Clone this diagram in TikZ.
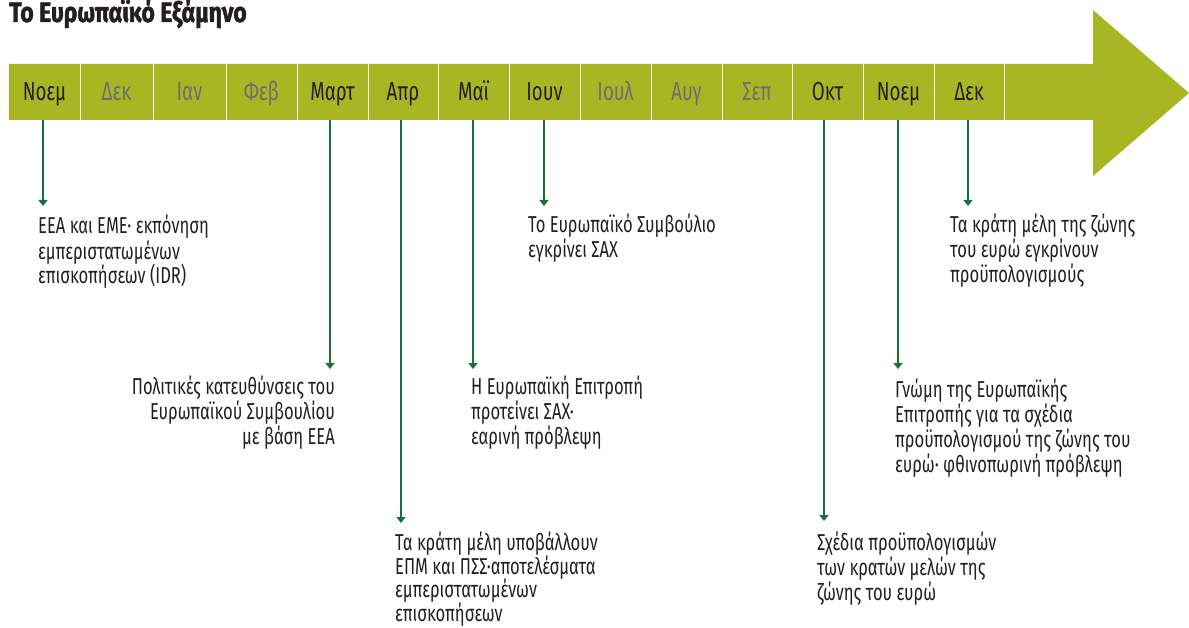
\documentclass[tikz,border=0pt]{standalone}
\usepackage{fontspec}
\setmainfont{Fira Sans}[FakeStretch=0.72]
\newfontfamily\titlefont{Fira Sans}[FakeStretch=0.82, BoldFeatures={FakeBold=1.6}]
\usetikzlibrary{arrows.meta}
\definecolor{band}{HTML}{A9B623}
\definecolor{conn}{HTML}{1A6E3A}
\definecolor{dark}{HTML}{231F20}
\definecolor{idlegrey}{HTML}{6D6E71}
\begin{document}
\begin{tikzpicture}[x=1pt,y=-1pt,
  month/.style={inner sep=0, minimum height=56pt, text height=18pt, text depth=0pt,
    font=\fontsize{26}{28}\selectfont},
  act/.style={month, text=dark},
  idle/.style={month, text=idlegrey},
  event/.style={inner sep=0, align=left, anchor=base west, text=dark,
    font=\fontsize{23}{25}\selectfont},
  link/.style={draw=conn, line width=1.2pt, -{Triangle[width=9pt,length=6pt]}},
  sepline/.style={draw=white!88!band, line width=1.2pt}]
\useasboundingbox (0,0) rectangle (1189,628);
% band with arrow head
\fill[band] (9,64) -- (1093,64) -- (1093,10) -- (1189,93) -- (1093,176) -- (1093,120) -- (9,120) -- cycle;
% title
\node[anchor=base west, inner sep=0, text=dark, font=\titlefont\bfseries\fontsize{28}{30}\selectfont] (title) at (9,22) {Το Ευρωπαϊκό Εξάμηνο};
% months
\node[act,  minimum width=71pt] (m1)  at (44.5,92) {Νοεμ};
\node[idle, minimum width=73pt] (m2)  at (116.5,92) {Δεκ};
\node[idle, minimum width=73pt] (m3)  at (189.5,92) {Ιαν};
\node[idle, minimum width=71pt] (m4)  at (261.5,92) {Φεβ};
\node[act,  minimum width=71pt] (m5)  at (332.5,92) {Μαρτ};
\node[act,  minimum width=70pt] (m6)  at (403,92) {Απρ};
\node[act,  minimum width=71pt] (m7)  at (473.5,92) {Μαϊ};
\node[act,  minimum width=71pt] (m8)  at (544.5,92) {Ιουν};
\node[idle, minimum width=71pt] (m9)  at (615.5,92) {Ιουλ};
\node[idle, minimum width=71pt] (m10) at (686.5,92) {Αυγ};
\node[idle, minimum width=70pt] (m11) at (757,92) {Σεπ};
\node[act,  minimum width=71pt] (m12) at (827.5,92) {Οκτ};
\node[act,  minimum width=71pt] (m13) at (898.5,92) {Νοεμ};
\node[act,  minimum width=70pt] (m14) at (969,92) {Δεκ};
\foreach \i in {1,...,14} \draw[sepline] (m\i.north east) -- (m\i.south east);
% events (base anchor = baseline of last line)
\node[event] (e1) at (38,284) {ΕΕΑ και ΕΜΕ· εκπόνηση\\εμπεριστατωμένων\\επισκοπήσεων (IDR)};
\node[event] (e2) at (528,258) {Το Ευρωπαϊκό Συμβούλιο\\εγκρίνει ΣΑΧ};
\node[event] (e3) at (950,283) {Τα κράτη μέλη της ζώνης\\του ευρώ εγκρίνουν\\προϋπολογισμούς};
\node[event, anchor=base east, align=right] (e4) at (335,444) {Πολιτικές κατευθύνσεις του\\Ευρωπαϊκού Συμβουλίου\\με βάση ΕΕΑ};
\node[event] (e5) at (471,444) {Η Ευρωπαϊκή Επιτροπή\\προτείνει ΣΑΧ·\\εαρινή πρόβλεψη};
\node[event] (e6) at (895,472) {Γνώμη της Ευρωπαϊκής\\Επιτροπής για τα σχέδια\\προϋπολογισμού της ζώνης του\\ευρώ· φθινοπωρινή πρόβλεψη};
\node[event, font=\fontsize{23}{23.5}\selectfont] (e7) at (395,621) {Τα κράτη μέλη υποβάλλουν\\ΕΠΜ και ΠΣΣ·αποτελέσματα\\εμπεριστατωμένων\\επισκοπήσεων};
\node[event] (e8) at (817,600) {Σχέδια προϋπολογισμών\\των κρατών μελών της\\ζώνης του ευρώ};
% connector tips
\coordinate (a1) at (43,206);
\coordinate (a5) at (330,369);
\coordinate (a6) at (401,523);
\coordinate (a7) at (473,369);
\coordinate (a8) at (544,206);
\coordinate (a12) at (824,521);
\coordinate (a13) at (898,369);
\coordinate (a14) at (968,206);
\foreach \i in {1,5,6,7,8,12,13,14} \draw[link] (a\i |- m\i.south) -- (a\i);
\end{tikzpicture}
\end{document}
